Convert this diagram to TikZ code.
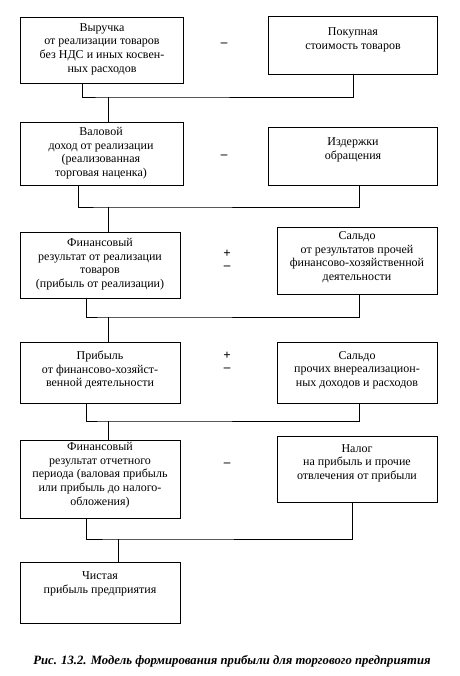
\documentclass[tikz,border=0pt]{standalone}
\usepackage{fontspec}
\setmainfont{Liberation Serif}
\usepackage{tikz}
\usetikzlibrary{arrows.meta,positioning,calc}

\begin{document}
\begin{tikzpicture}[x=1pt, y=-1pt, line width=0.9pt,
    box/.style={draw, anchor=north west, inner sep=0pt},
    txt/.style={align=center, font=\fontsize{12}{13.6}\selectfont, inner sep=0pt},
    sign/.style={font=\fontsize{13}{13}\selectfont\bfseries, inner sep=0pt}]
  \useasboundingbox (0,0) rectangle (459,676);
  % left column
  \node[box, minimum width=163pt, minimum height=66pt] (vyr) at (20,17) {};
  \node[box, minimum width=163pt, minimum height=63pt] (val) at (20,122) {};
  \node[box, minimum width=160pt, minimum height=66pt] (finr) at (20,232) {};
  \node[box, minimum width=160pt, minimum height=61pt] (prib) at (20,342) {};
  \node[box, minimum width=160pt, minimum height=78pt] (finp) at (20,440) {};
  \node[box, minimum width=160pt, minimum height=61pt] (chist) at (20,562) {};
  % right column
  \node[box, minimum width=169pt, minimum height=58pt] (pok) at (268,16) {};
  \node[box, minimum width=169pt, minimum height=58pt] (izd) at (268,127) {};
  \node[box, minimum width=160pt, minimum height=67pt] (sal1) at (277,227) {};
  \node[box, minimum width=160pt, minimum height=61pt] (sal2) at (277,342) {};
  \node[box, minimum width=160pt, minimum height=66pt] (nal) at (277,436) {};
  % texts
  \node[txt] (vyr-t) at (102,49) {Выручка\\от реализации товаров\\без НДС и иных косвен-\\ных расходов};
  \node[txt] (val-t) at (101,153) {Валовой\\доход от реализации\\(реализованная\\торговая наценка)};
  \node[txt] (finr-t) at (100,264) {Финансовый\\результат от реализации\\товаров\\(прибыль от реализации)};
  \node[txt] (prib-t) at (100,370) {Прибыль\\от финансово-хозяйст-\\венной деятельности};
  \node[txt] (finp-t) at (100,475) {Финансовый\\результат отчетного\\периода (валовая прибыль\\или прибыль до налого-\\обложения)};
  \node[txt] (chist-t) at (100,584) {Чистая\\прибыль предприятия};
  \node[txt] (pok-t) at (353,40) {Покупная\\стоимость товаров};
  \node[txt] (izd-t) at (353,150) {Издержки\\обращения};
  \node[txt] (sal1-t) at (357,257) {Сальдо\\от результатов прочей\\финансово-хозяйственной\\деятельности};
  \node[txt] (sal2-t) at (357,370) {Сальдо\\прочих внереализацион-\\ных доходов и расходов};
  \node[txt] (nal-t) at (357,463) {Налог\\на прибыль и прочие\\отвлечения от прибыли};
  % signs
  \node[sign] (s1) at (224,45) {--};
  \node[sign] (s2) at (224,157) {--};
  \node[sign] (s3p) at (227,254) {+};
  \node[sign] (s3m) at (227,268) {--};
  \node[sign] (s4p) at (227,356) {+};
  \node[sign] (s4m) at (227,370) {--};
  \node[sign] (s5) at (227,465) {--};
  % junctions
  \coordinate (j1) at (108,97);
  \coordinate (j2) at (108,207);
  \coordinate (j3) at (108,317);
  \coordinate (j4) at (108,421);
  \coordinate (j5) at (118,539);
  \draw ([xshift=-19.5pt]vyr.south) |- (j1) -| (pok.south);
  \draw (j1) -- (val.north -| j1);
  \draw ([xshift=-23.5pt]val.south) |- (j2) -| ([xshift=6.5pt]izd.south);
  \draw (j2) -- (finr.north -| j2);
  \draw ([xshift=-14.5pt]finr.south) |- (j3) -| ([xshift=1.5pt]sal1.south);
  \draw (j3) -- (prib.north -| j3);
  \draw ([xshift=-14.5pt]prib.south) |- (j4) -| ([xshift=1.5pt]sal2.south);
  \draw (j4) -- (finp.north -| j4);
  \draw ([xshift=-14.5pt]finp.south) |- (j5) -| ([xshift=-5.5pt]nal.south);
  \draw (j5) -- (chist.north -| j5);
  % caption
  \node[font=\fontsize{12.7}{14}\selectfont\bfseries\itshape, inner sep=0pt] (cap) at (232,661)
    {Рис. 13.2. Модель формирования прибыли для торгового предприятия};
\end{tikzpicture}
\end{document}
